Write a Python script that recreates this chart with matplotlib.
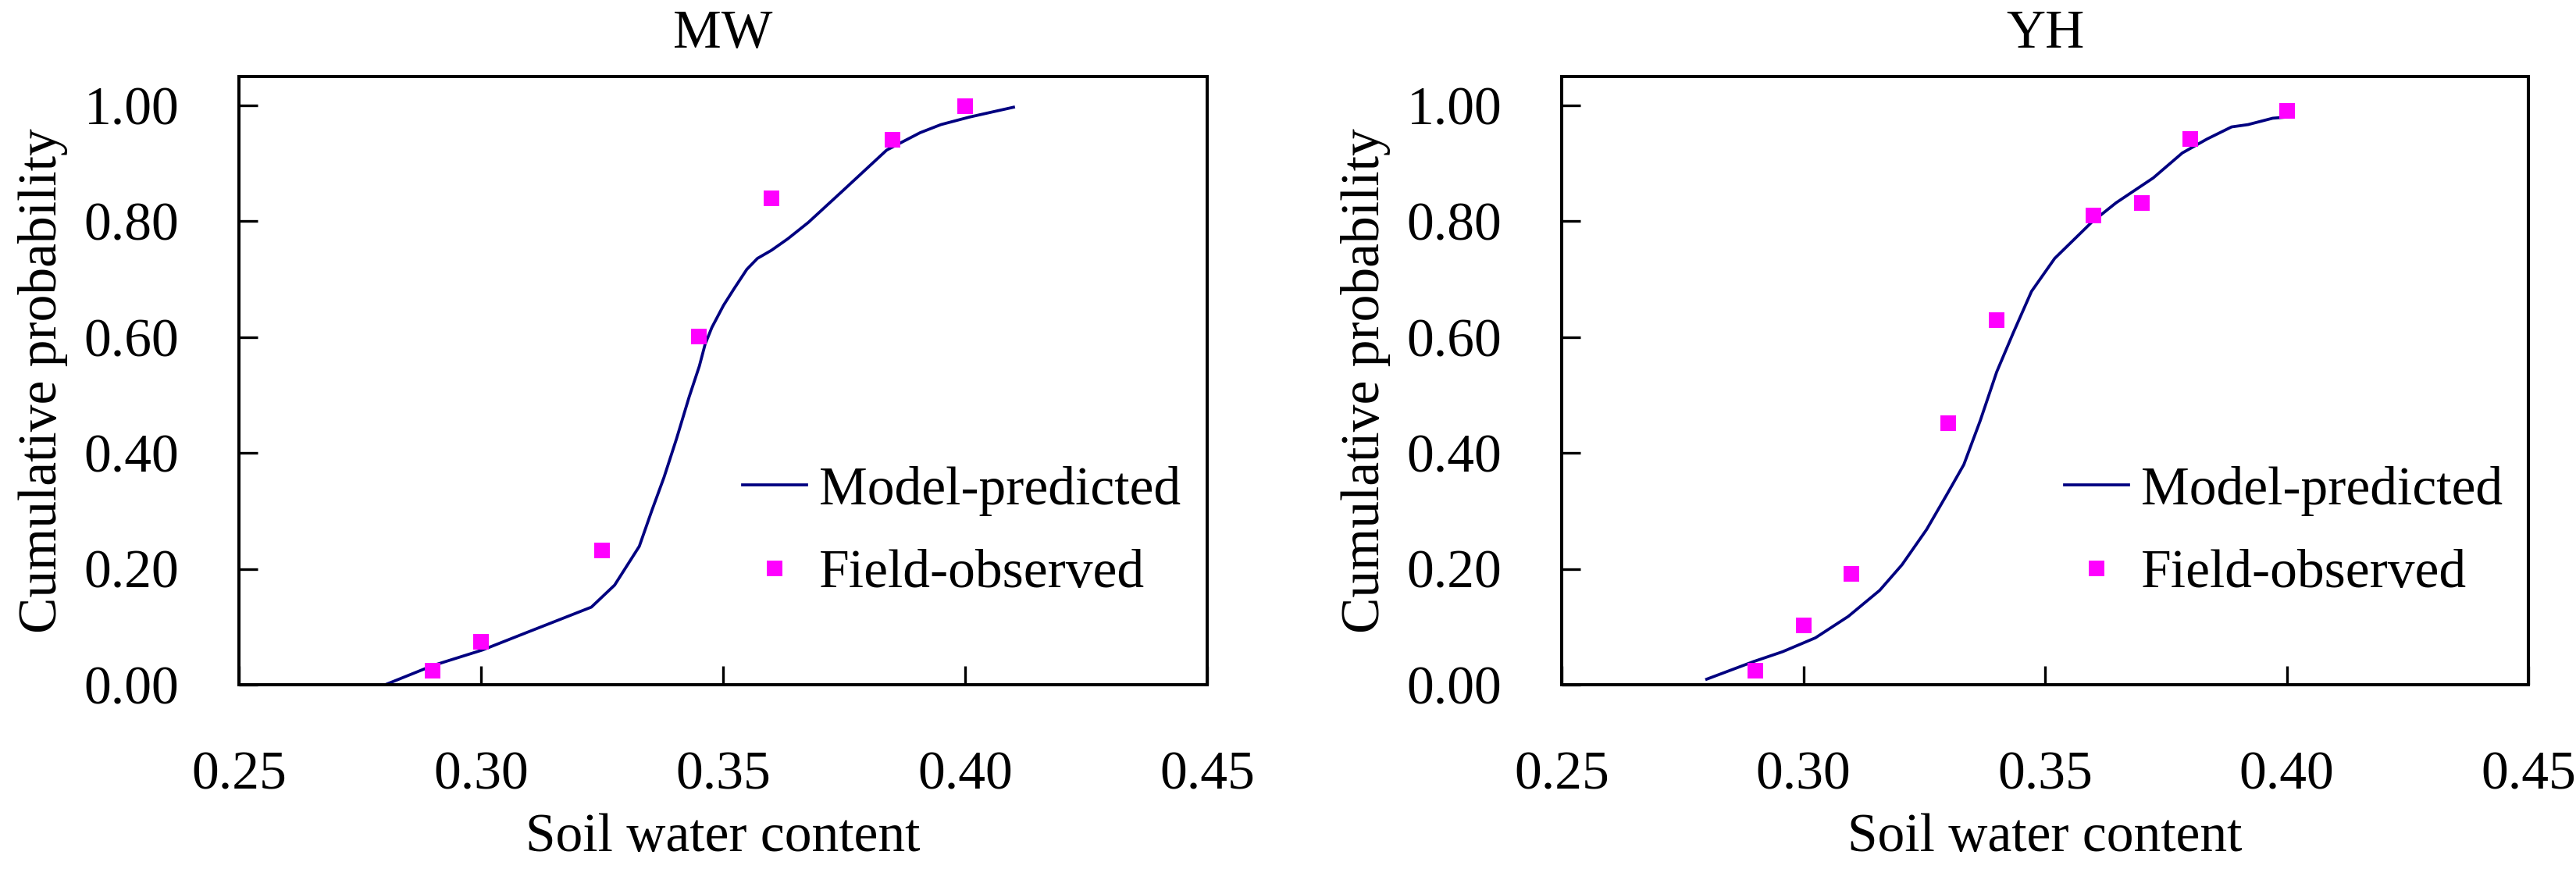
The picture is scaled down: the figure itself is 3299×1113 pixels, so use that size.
import matplotlib
matplotlib.use("Agg")
import matplotlib.pyplot as plt
from matplotlib.ticker import FormatStrFormatter

plt.rcParams['font.family'] = ['Liberation Serif', 'DejaVu Serif']

# ---- data ----
titles = ["MW", "YH"]

mw_model_x = [0.2802, 0.290, 0.3003, 0.3097, 0.3228, 0.3276, 0.3327, 0.3353, 0.3378, 0.3404,
              0.343, 0.3451, 0.3463, 0.3477, 0.3501, 0.3523, 0.3549, 0.3571, 0.360, 0.3634,
              0.3676, 0.3745, 0.3838, 0.3907, 0.395, 0.4009, 0.410]
mw_model_y = [0.0, 0.033, 0.060, 0.091, 0.134, 0.172, 0.239, 0.301, 0.358, 0.425,
              0.497, 0.550, 0.588, 0.617, 0.655, 0.684, 0.717, 0.736, 0.750, 0.770,
              0.798, 0.851, 0.923, 0.953, 0.967, 0.980, 0.997]
mw_obs_x = [0.290, 0.300, 0.325, 0.345, 0.360, 0.385, 0.400]
mw_obs_y = [0.024, 0.074, 0.232, 0.601, 0.840, 0.941, 0.999]

yh_model_x = [0.280, 0.2897, 0.2957, 0.3025, 0.3093, 0.3158, 0.3204, 0.3255, 0.3298, 0.3332,
              0.3366, 0.340, 0.3434, 0.3472, 0.352, 0.3596, 0.3647, 0.3724, 0.3784, 0.3835,
              0.3886, 0.392, 0.3971, 0.400]
yh_model_y = [0.0096, 0.040, 0.057, 0.081, 0.118, 0.163, 0.207, 0.268, 0.330, 0.380,
              0.456, 0.540, 0.607, 0.679, 0.736, 0.798, 0.832, 0.875, 0.918, 0.942,
              0.963, 0.967, 0.978, 0.980]
yh_obs_x = [0.29, 0.30, 0.31, 0.33, 0.34, 0.36, 0.37, 0.38, 0.40]
yh_obs_y = [0.024, 0.103, 0.191, 0.451, 0.630, 0.810, 0.832, 0.942, 0.991]

xticks = [0.25, 0.30, 0.35, 0.40, 0.45]
yticks = [0.0, 0.2, 0.4, 0.6, 0.8, 1.0]

series = [
    (mw_model_x, mw_model_y, mw_obs_x, mw_obs_y),
    (yh_model_x, yh_model_y, yh_obs_x, yh_obs_y),
]

W, H = 3299, 1113
fig = plt.figure(figsize=(W / 100, H / 100), dpi=100)

positions = [
    [306 / W, 1 - 877 / H, 1240 / W, 779 / H],
    [2000 / W, 1 - 877 / H, 1238 / W, 779 / H],
]

FS = 50
for pos, title, (mx, my, ox, oy) in zip(positions, titles, series):
    ax = fig.add_axes(pos)
    ax.plot(mx, my, color='#000080', lw=2.7, label='Model-predicted')
    ax.plot(ox, oy, linestyle='none', marker='s', ms=14.8, color='#FF00FF',
            markeredgewidth=0, label='Field-observed')
    ax.set_xlim(0.25, 0.45)
    ax.set_ylim(0.0, 1.05)
    ax.set_xticks(xticks)
    ax.set_yticks(yticks)
    ax.xaxis.set_major_formatter(FormatStrFormatter('%.2f'))
    ax.yaxis.set_major_formatter(FormatStrFormatter('%.2f'))
    ax.tick_params(direction='in', length=17.3, width=2.4, labelsize=FS)
    ax.tick_params(axis='x', pad=61)
    ax.tick_params(axis='y', pad=55)
    for s in ax.spines.values():
        s.set_linewidth(2.9)
    ax.set_xlabel('Soil water content', fontsize=FS, labelpad=11.5)
    ax.set_ylabel('Cumulative probability', fontsize=FS, labelpad=15)
    ax.set_title(title, fontsize=FS, pad=26.6)
    ax.legend(loc='upper left', bbox_to_anchor=(0.520, 0.36), frameon=False,
              fontsize=FS, borderpad=0, borderaxespad=0, handlelength=1.18,
              handletextpad=0.23, labelspacing=0.62)

fig.savefig('out.png', dpi=100)
